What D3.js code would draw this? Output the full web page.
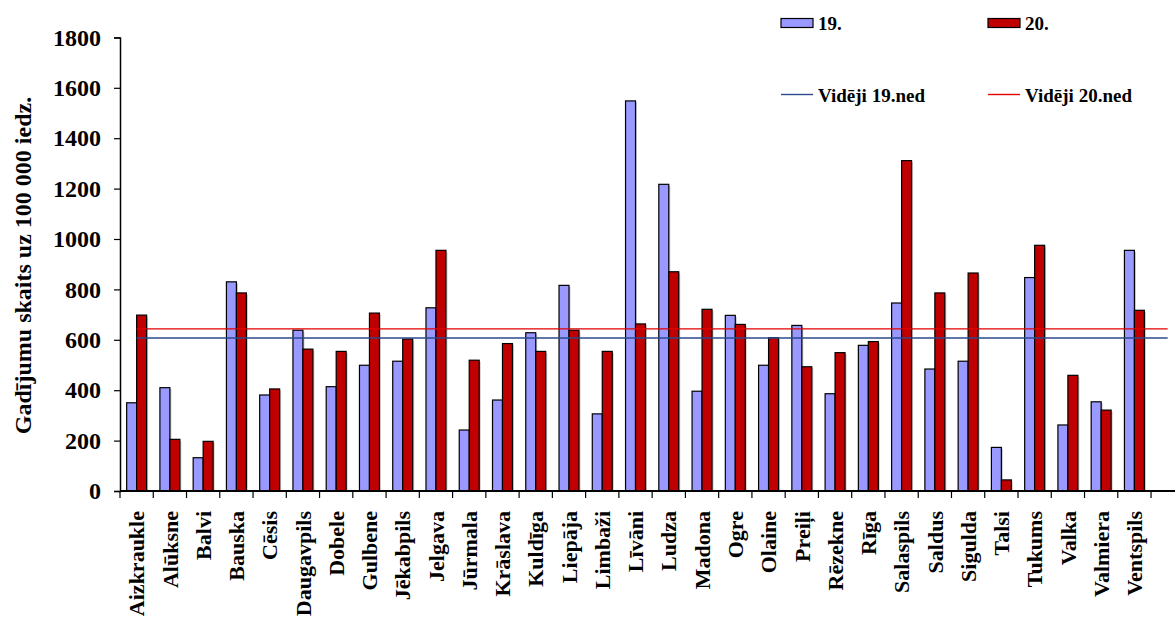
<!DOCTYPE html>
<html>
<head>
<meta charset="utf-8">
<script src="https://cdn.jsdelivr.net/npm/d3@7"></script>
<style>
  html, body { margin: 0; padding: 0; background: #fff; }
  svg { display: block; }
  text { font-family: "Liberation Serif", "Times New Roman", serif; font-weight: bold; fill: #000; }
</style>
</head>
<body>
<svg id="chart" width="1175" height="623"></svg>
<script>
const categories = ["Aizkraukle","Alūksne","Balvi","Bauska","Cēsis","Daugavpils","Dobele","Gulbene","Jēkabpils","Jelgava","Jūrmala","Krāslava","Kuldīga","Liepāja","Limbaži","Līvāni","Ludza","Madona","Ogre","Olaine","Preiļi","Rēzekne","Rīga","Salaspils","Saldus","Sigulda","Talsi","Tukums","Valka","Valmiera","Ventspils"];
const values19 = [350,410,132,830,381,638,414,499,515,727,242,361,628,816,306,1548,1217,396,697,499,657,386,578,746,484,515,173,847,262,354,955];
const values20 = [698,205,197,786,405,563,554,706,603,955,519,585,554,638,554,663,870,721,661,608,493,549,593,1311,786,865,44,975,459,321,717];
const seriesNames = ["19.", "20."];
const avgNames = ["Vidēji 19.ned", "Vidēji 20.ned"];
const avgValues = [607, 643];
const yTicks = [0,200,400,600,800,1000,1200,1400,1600,1800];
const yTitle = "Gadījumu skaits uz 100 000 iedz.";

const svg = d3.select("#chart");
const colors = ["#9999FF", "#C00000"];
const lineColors = ["#2B4A8C", "#E00000"];

// the original axis has one trailing empty slot
const xDomain = categories.concat([""]);
const x = d3.scaleBand().domain(xDomain).range([120, 1184.3]).padding(0);
const bw = x.bandwidth();
const xs = d3.scaleBand().domain(seriesNames).range([0.2 * bw, 0.8 * bw]).padding(0);
const y = d3.scaleLinear().domain([0, 1800]).range([491, 37.4]);

const rows = categories.map((c, i) => ({c, v: [values19[i], values20[i]]}));

// bars (with faint shadow)
const g = svg.append("g");
rows.forEach(r => {
  seriesNames.forEach((s, k) => {
    const bx = x(r.c) + xs(s), by = y(r.v[k]), bwid = xs.bandwidth();
    g.append("rect").attr("x", bx + 1.5).attr("y", by + 1.5).attr("width", bwid).attr("height", y(0) - by - 1.5)
      .attr("fill", "#c8c8c8");
  });
});
rows.forEach(r => {
  seriesNames.forEach((s, k) => {
    const bx = x(r.c) + xs(s), by = y(r.v[k]), bwid = xs.bandwidth();
    g.append("rect").attr("x", bx).attr("y", by).attr("width", bwid).attr("height", y(0) - by)
      .attr("fill", colors[k]).attr("stroke", "#000").attr("stroke-width", 1.2);
  });
});

// average lines
avgValues.forEach((v, k) => {
  svg.append("line")
    .attr("x1", x(categories[0]) + bw / 2).attr("x2", x("") + bw / 2)
    .attr("y1", y(v)).attr("y2", y(v))
    .attr("stroke", lineColors[k]).attr("stroke-width", k === 0 ? 1.6 : 1.3);
});

// y axis
const yAxis = d3.axisLeft(y).tickValues(yTicks).tickSize(6).tickPadding(13).tickFormat(d3.format("d"));
const ya = svg.append("g").attr("transform", "translate(120,0)").call(yAxis);
ya.select(".domain").attr("stroke", "#000").attr("stroke-width", 1.5);
ya.selectAll(".tick line").attr("stroke", "#000").attr("stroke-width", 1.2);
ya.selectAll(".tick text").style("font-size", "24px").style("font-family", "'Liberation Serif', serif").style("font-weight", "bold");

// x axis
svg.append("line").attr("x1", 120).attr("x2", 1175).attr("y1", y(0)).attr("y2", y(0))
  .attr("stroke", "#000").attr("stroke-width", 2);
xDomain.forEach(c => {
  svg.append("line").attr("x1", x(c)).attr("x2", x(c)).attr("y1", y(0)).attr("y2", y(0) + 7)
    .attr("stroke", "#000").attr("stroke-width", 1.2);
});
svg.append("g").selectAll("text").data(categories).join("text")
  .attr("transform", d => `translate(${x(d) + bw / 2},511) rotate(-90)`)
  .attr("text-anchor", "end").attr("dy", "0.35em")
  .style("font-size", "22px")
  .text(d => d);

// y title
svg.append("text").attr("transform", "translate(31,265.5) rotate(-90)")
  .attr("text-anchor", "middle").style("font-size", "24px").text(yTitle);

// legend
const legX = [781, 988];
seriesNames.forEach((s, k) => {
  svg.append("rect").attr("x", legX[k]).attr("y", 18.5).attr("width", 32).attr("height", 9)
    .attr("fill", colors[k]).attr("stroke", "#000").attr("stroke-width", 1.2);
  svg.append("text").attr("x", legX[k] + 37).attr("y", 29.5).style("font-size", "19px").text(s);
});
avgNames.forEach((s, k) => {
  svg.append("line").attr("x1", legX[k]).attr("x2", legX[k] + 32).attr("y1", 94.5).attr("y2", 94.5)
    .attr("stroke", lineColors[k]).attr("stroke-width", 1.4);
  svg.append("text").attr("x", legX[k] + 37).attr("y", 101.7).style("font-size", "19px").text(s);
});
</script>
</body>
</html>
